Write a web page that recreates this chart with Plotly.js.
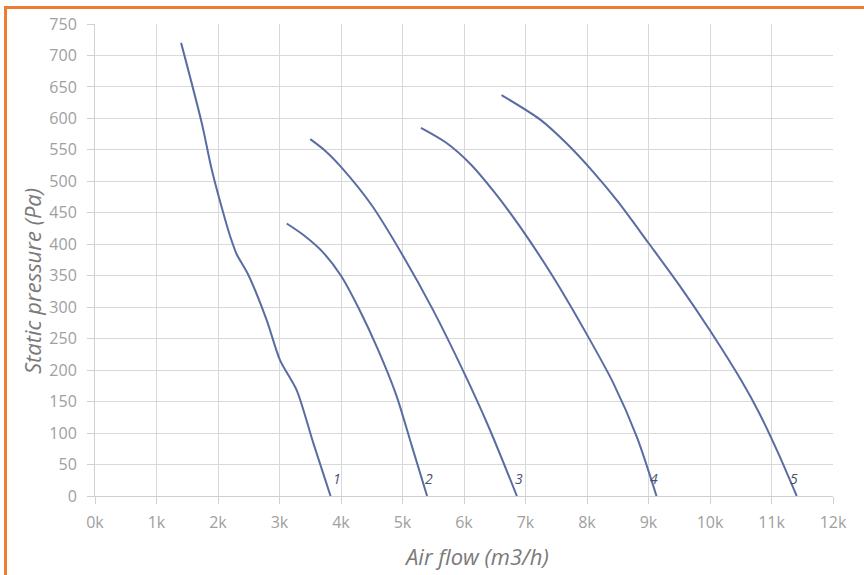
<!DOCTYPE html>
<html>
<head>
<meta charset="utf-8">
<script src="https://cdn.plot.ly/plotly-3.0.1.min.js"></script>
<style>
  html, body { margin:0; padding:0; background:#fff; overflow:hidden; }
  #wrap { position:relative; width:864px; height:575px; overflow:hidden; }
  #chart { position:absolute; left:0; top:0; width:864px; height:575px; }
  #frame { position:absolute; left:4px; top:6px; width:900px; height:620px;
           border:3px solid #ED7D31; pointer-events:none; box-sizing:border-box; }
</style>
</head>
<body>
<div id="wrap">
  <div id="chart"></div>
  <div id="frame"></div>
</div>
<script>
// Air flow (m3/h) and static pressure (Pa)
const curve1X = [1400, 1735, 1900, 2085, 2200, 2300, 2490, 2790, 3008, 3280, 3550, 3830];
const curve1Y = [720, 593, 518, 450, 412, 385, 352, 280, 216, 168, 84, 0];
const curve2X = [3117, 3400, 3700, 4000, 4300, 4600, 4900, 5150, 5400];
const curve2Y = [433, 414, 388, 350, 296, 233, 160, 80, 0];
const curve3X = [3500, 3750, 4000, 4500, 5000, 5500, 6000, 6400, 6860];
const curve3Y = [567, 548, 523, 462, 383, 295, 196, 110, 0];
const curve4X = [5300, 5700, 6100, 6500, 6910, 7450, 7990, 8430, 8810, 9130];
const curve4Y = [585, 562, 528, 482, 428, 348, 258, 179, 94, 0];
const curve5X = [6610, 7240, 7670, 8100, 8500, 9000, 9500, 10000, 10500, 10800, 11100, 11410];
const curve5Y = [637, 598, 560, 515, 468, 402, 335, 263, 185, 132, 70, 0];

const curveNames = ["1", "2", "3", "4", "5"];
const labelX = [3830, 5330, 6795, 8990, 11270];
const labelY = [28, 28, 28, 28, 28];

const xTickVals = [0, 1000, 2000, 3000, 4000, 5000, 6000, 7000, 8000, 9000, 10000, 11000, 12000];
const xTickText = ["0k", "1k", "2k", "3k", "4k", "5k", "6k", "7k", "8k", "9k", "10k", "11k", "12k"];
const yTickVals = [0, 50, 100, 150, 200, 250, 300, 350, 400, 450, 500, 550, 600, 650, 700, 750];

const xTitle = "Air flow (m3/h)";
const yTitle = "Static pressure (Pa)";

const xs = [curve1X, curve2X, curve3X, curve4X, curve5X];
const ys = [curve1Y, curve2Y, curve3Y, curve4Y, curve5Y];

const lineColor = "#5A6DA2";
const traces = xs.map((x, i) => ({
  x: x, y: ys[i], type: "scatter", mode: "lines", name: curveNames[i],
  line: { color: lineColor, width: 2, shape: "spline", smoothing: 0.8 },
  hoverinfo: "skip"
}));

const titleFont = { family: "Open Sans, sans-serif", size: 22, color: "#7A7A7A", style: "italic" };

const annotations = curveNames.map((n, i) => ({
  x: labelX[i], y: labelY[i], xref: "x", yref: "y", text: n, showarrow: false,
  xanchor: "left", yanchor: "middle",
  font: { family: "Open Sans, sans-serif", size: 14, color: "#44546A", style: "italic" }
}));
annotations.push({
  x: 0.5176, y: -0.127, xref: "paper", yref: "paper", text: xTitle, showarrow: false,
  xanchor: "center", yanchor: "middle", font: titleFont
});
annotations.push({
  x: -0.0854, y: 0.4555, xref: "paper", yref: "paper", text: yTitle, showarrow: false,
  xanchor: "center", yanchor: "middle", textangle: -90, font: titleFont
});

const tickFont = { family: "Open Sans, sans-serif", size: 16, color: "#A0A0A0" };

const layout = {
  width: 864, height: 575,
  margin: { l: 95, r: 31, t: 24, b: 79 },
  paper_bgcolor: "rgba(0,0,0,0)", plot_bgcolor: "#fff",
  showlegend: false,
  annotations: annotations,
  xaxis: {
    range: [0, 12000], tickvals: xTickVals, ticktext: xTickText,
    showgrid: true, gridcolor: "#D9D9D9", gridwidth: 1,
    zeroline: false, showline: true, linecolor: "#D0D0D0", linewidth: 1,
    ticks: "outside", ticklen: 7, tickcolor: "#D0D0D0",
    ticklabelstandoff: 5,
    tickfont: tickFont
  },
  yaxis: {
    range: [0, 750], tickvals: yTickVals,
    showgrid: true, gridcolor: "#D9D9D9", gridwidth: 1,
    zeroline: false, showline: true, linecolor: "#D0D0D0", linewidth: 1,
    ticks: "outside", ticklen: 7, tickcolor: "#D0D0D0",
    ticklabelstandoff: 7,
    tickfont: tickFont
  }
};

Plotly.newPlot("chart", traces, layout, { staticPlot: true, displayModeBar: false });
</script>
</body>
</html>
